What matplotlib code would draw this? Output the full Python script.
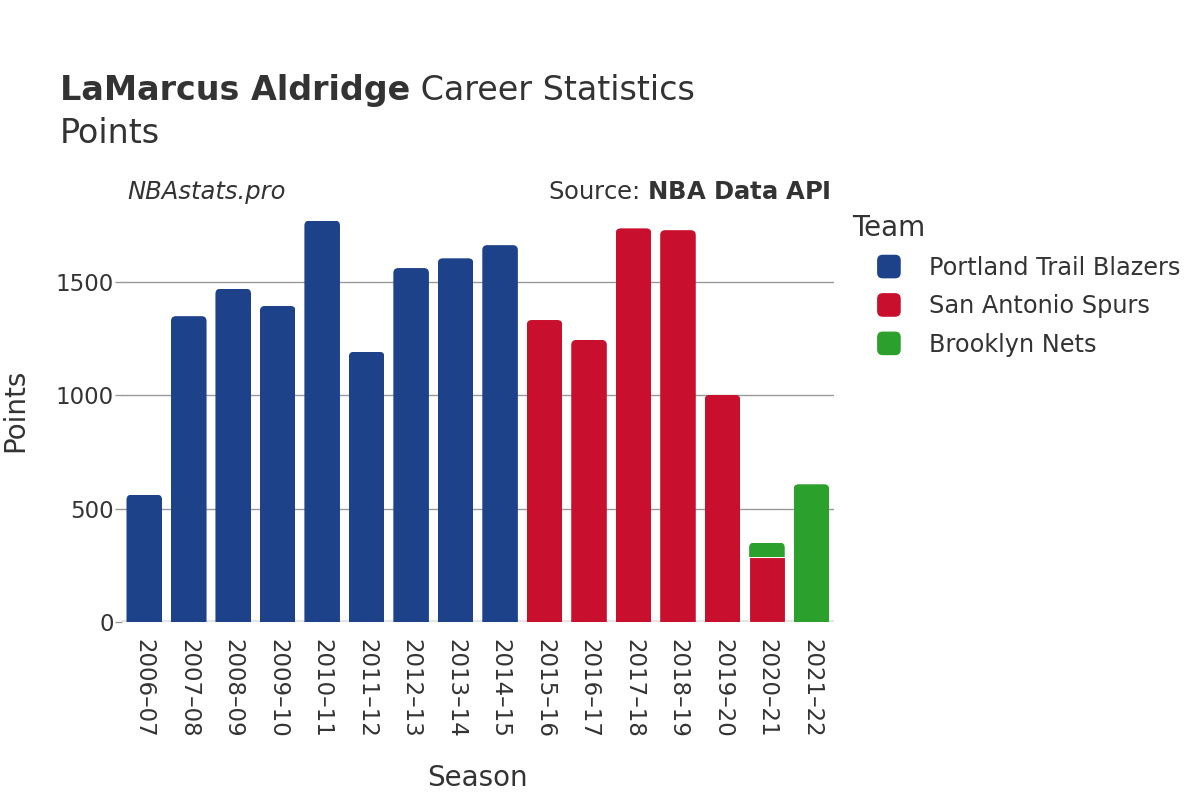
import numpy as np
import matplotlib
matplotlib.use("Agg")
import matplotlib.pyplot as plt
from matplotlib.patches import FancyBboxPatch, Patch
from matplotlib.legend_handler import HandlerPatch

seasons = ["2006–07", "2007–08", "2008–09", "2009–10", "2010–11", "2011–12",
           "2012–13", "2013–14", "2014–15", "2015–16", "2016–17", "2017–18",
           "2018–19", "2019–20", "2020–21", "2021–22"]
teams = ["Portland Trail Blazers", "San Antonio Spurs", "Brooklyn Nets"]
team_colors = ["#1D428A", "#C8102E", "#2CA02C"]
por_pts = [561, 1348, 1469, 1393, 1769, 1191, 1560, 1603, 1661, 0, 0, 0, 0, 0, 0, 0]
sas_pts = [0, 0, 0, 0, 0, 0, 0, 0, 0, 1331, 1243, 1735, 1727, 1001, 288, 0]
bkn_pts = [0, 0, 0, 0, 0, 0, 0, 0, 0, 0, 0, 0, 0, 0, 62, 607]

plt.rcParams["font.family"] = ["DejaVu Sans"]
TXT = "#333333"

fig = plt.figure(figsize=(12, 8), dpi=100)
ax = fig.add_axes([0.1017, 0.2225, 0.593, 0.5275])

x = np.arange(len(seasons))
W = 0.8
YMAX = 1860
ax.set_xlim(-0.5, len(seasons) - 0.5)
ax.set_ylim(0, YMAX)

# pixel scales, used to round only the top corners
px_x = 0.593 * 1200 / len(seasons)
px_y = 0.5275 * 800 / YMAX
r = 5.0 / px_x
aspect = px_x / px_y

series = [por_pts, sas_pts, bkn_pts]
bottom = np.zeros(len(seasons))
tops = np.array(por_pts) + np.array(sas_pts) + np.array(bkn_pts)
for vals, col in zip(series, team_colors):
    vals = np.array(vals, dtype=float)
    keep = vals > 0
    bars = ax.bar(x[keep], vals[keep], W, bottom=bottom[keep], color=col,
                  edgecolor="white", linewidth=0.8, zorder=3)
    for b, v, b0, t in zip(bars, vals[keep], bottom[keep], tops[keep]):
        if np.isclose(b0 + v, t):
            # top segment: rounded top, square bottom (clipped to the bar)
            b.set_visible(False)
            ext = 3 * r * aspect
            fb = FancyBboxPatch((b.get_x(), b0 - ext), W, v + ext,
                                boxstyle=f"round,pad=0,rounding_size={r}",
                                mutation_aspect=aspect,
                                facecolor=col, edgecolor="none", zorder=3)
            ax.add_patch(fb)
            fb.set_clip_path(b)
    bottom = bottom + vals

ax.set_xticks(x)
ax.set_xticklabels(seasons, rotation=-90, fontsize=16.5, color=TXT)
ax.set_yticks([0, 500, 1000, 1500])
ax.set_yticklabels(["0", "500", "1000", "1500"], fontsize=16.5, color=TXT)
ax.tick_params(axis="y", length=5, color="#999999", width=1, pad=1)
ax.tick_params(axis="x", length=0, pad=12)
for s in ax.spines.values():
    s.set_visible(False)
ax.grid(axis="y", color="#999999", linewidth=1, zorder=0)
ax.axhline(0, color="#e5e5e5", linewidth=3, zorder=2)
ax.set_axisbelow(True)

t1 = fig.text(0.05, 0.887, "LaMarcus Aldridge", fontsize=24, fontweight="bold", color=TXT, va="center")
fig.canvas.draw()
ax.annotate(" Career Statistics", xy=(1, 0.5), xycoords=t1, fontsize=24, color=TXT, va="center")
fig.text(0.05, 0.833, "Points", fontsize=24, color=TXT, va="center")
fig.text(0.106, 0.76, "NBAstats.pro", fontsize=17.5, style="italic", color=TXT, va="center")
fig.text(0.692, 0.76, "Source: $\\bf{NBA\\ Data\\ API}$", fontsize=17.5, color=TXT, va="center", ha="right")

fig.text(0.398, 0.027, "Season", fontsize=20, color=TXT, ha="center", va="center")
fig.text(0.013, 0.487, "Points", fontsize=20, color=TXT, ha="center", va="center", rotation=90)


def rounded_square(legend, orig_handle, xdescent, ydescent, width, height, fontsize):
    side = 16.0
    cx = -xdescent + 26.5
    cy = -ydescent + height / 2
    return FancyBboxPatch((cx - side / 2, cy - side / 2), side, side,
                          boxstyle="round,pad=0,rounding_size=3.5")


handles = [Patch(facecolor=c, edgecolor=c) for c in team_colors]
leg = fig.legend(handles, teams, loc="upper left", bbox_to_anchor=(0.7025, 0.7445),
                 title="Team", frameon=False, fontsize=17.3, title_fontsize=20,
                 labelspacing=0.6, handlelength=2.3, handletextpad=0.9, borderaxespad=0,
                 borderpad=0.38,
                 handler_map={Patch: HandlerPatch(patch_func=rounded_square)})
leg._legend_box.align = "left"
leg.get_title().set_color(TXT)
for t in leg.get_texts():
    t.set_color(TXT)

fig.savefig("out.png", dpi=100)
